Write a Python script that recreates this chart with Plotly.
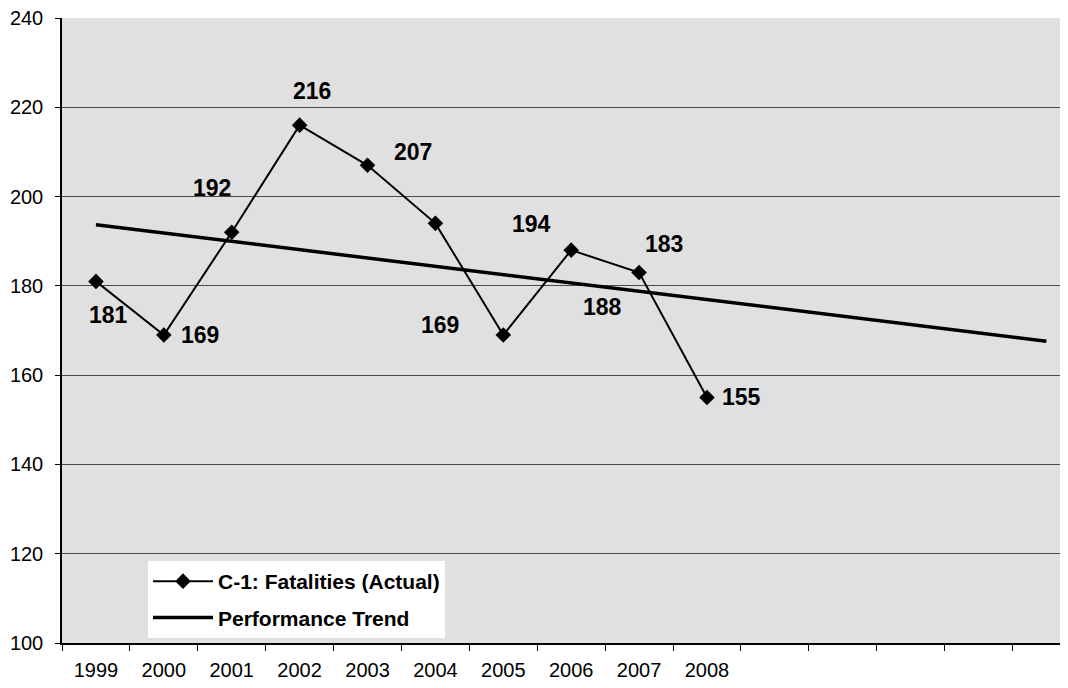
import plotly.graph_objects as go

categories = [str(y) for y in range(1999, 2014)]
tick_labels = ["1999", "2000", "2001", "2002", "2003", "2004", "2005", "2006", "2007", "2008",
               "", "", "", "", ""]
fatal_years = ["1999", "2000", "2001", "2002", "2003", "2004", "2005", "2006", "2007", "2008"]
fatalities = [181, 169, 192, 216, 207, 194, 169, 188, 183, 155]
trend_years = ["1999", "2013"]
trend_values = [193.7, 167.6]

# label offsets in pixels (dx right, dy up), as placed in the source chart
label_dx = [13, 36, -20, 12, 45, 96, -63, 31, 25, 35]
label_dy = [-34, 0, 44, 34, 13, -1, 10, -57, 28, 0]

fig = go.Figure()
fig.add_trace(go.Scatter(
    x=fatal_years, y=fatalities, mode="lines+markers",
    name="C-1: Fatalities (Actual)",
    line=dict(color="black", width=2),
    marker=dict(symbol="diamond", size=12, color="black"),
    legendgroup="a",
))
fig.add_trace(go.Scatter(
    x=trend_years, y=trend_values, mode="lines",
    name="Performance Trend",
    line=dict(color="black", width=3.5),
    legendgroup="b",
))

for yr, v, dx, dy in zip(fatal_years, fatalities, label_dx, label_dy):
    fig.add_annotation(
        x=categories.index(yr), y=v, text=str(v), showarrow=False,
        xref="x", yref="y",
        xshift=dx, yshift=dy,
        font=dict(family="Liberation Sans, Arial", size=23, color="black", weight="bold"),
    )

fig.update_layout(
    width=1052, height=672,
    margin=dict(l=54, r=0, t=10, b=37, autoexpand=False),
    paper_bgcolor="white",
    plot_bgcolor="#e0e0e0",
    font=dict(family="Liberation Sans, Arial", color="black"),
    showlegend=True,
    legend=dict(
        xref="paper", yref="paper",
        x=(148 - 62) / 998, y=(643 - 561) / 625, xanchor="left", yanchor="top",
        bgcolor="white",
        font=dict(size=21, color="black", weight="bold"),
        traceorder="grouped", tracegroupgap=6,
        itemwidth=60,
    ),
)
fig.update_xaxes(
    type="category",
    categoryorder="array", categoryarray=categories,
    tickmode="array", tickvals=categories, ticktext=tick_labels,
    tickson="boundaries",
    tickangle=0,
    range=[-0.5, 14.2],
    showgrid=False,
    showline=True, linecolor="black", linewidth=1.5,
    ticks="outside", ticklen=6, tickcolor="black", tickwidth=1,
    tickfont=dict(size=20, color="black"),
    ticklabelstandoff=8,
    ticklabeloverflow="allow",
)
fig.update_yaxes(
    range=[100, 240],
    tickvals=[100, 120, 140, 160, 180, 200, 220, 240],
    showgrid=True, gridcolor="#4a4a4a", gridwidth=1,
    showline=True, linecolor="black", linewidth=1.5,
    ticks="outside", ticklen=5, tickcolor="black",
    tickfont=dict(size=20, color="black"),
    ticklabelstandoff=8,
    ticklabeloverflow="allow",
    zeroline=False,
)

fig.write_html("out.html")
